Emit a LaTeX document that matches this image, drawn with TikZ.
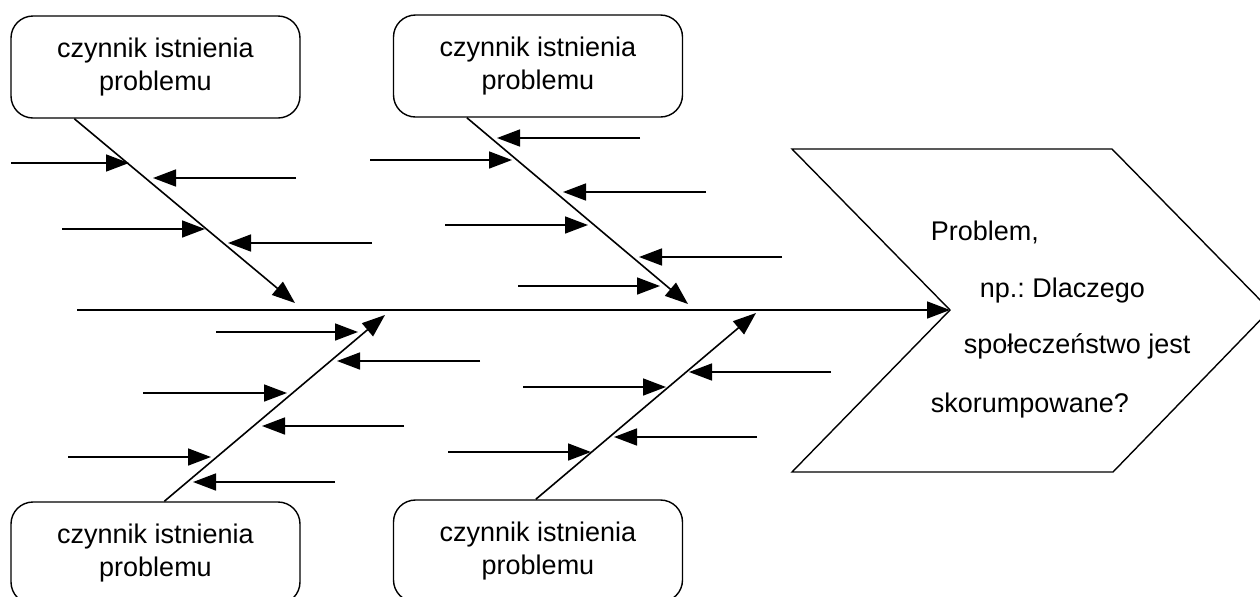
\documentclass[tikz,border=0pt]{standalone}
\usepackage{fontspec}
\setmainfont{Liberation Sans}
\usetikzlibrary{arrows.meta,calc}
\frenchspacing
\begin{document}
\begin{tikzpicture}[x=0.5pt,y=-0.5pt,
  line width=0.8pt,
  box/.style={draw, line width=0.7pt, rounded corners=11pt, minimum width=144.5pt, minimum height=51pt, align=center, font=\fontsize{13.5}{16.5}\selectfont, inner sep=0pt},
  arr/.style={-{Triangle[length=11.5pt,width=8.5pt]}},
  lbl/.style={anchor=base west, font=\fontsize{13.5}{16.5}\selectfont, inner sep=0pt}]
\useasboundingbox (0,0) rectangle (1260,596);
\clip (0,0) rectangle (1260,596);
% cause boxes
\node[box] (b1) at (155.5,67) {czynnik istnienia\\problemu};
\node[box] (b2) at (538,66) {czynnik istnienia\\problemu};
\node[box] (b3) at (155.5,553) {czynnik istnienia\\problemu};
\node[box] (b4) at (538,551) {czynnik istnienia\\problemu};
% head (chevron)
\coordinate (head) at (950,310);
\draw[line width=0.7pt] (792,149) -- (1112,149) -- (1270,310) -- (1113,472) -- (792,472) -- (head) -- cycle;
\node[lbl] (t1) at (930,240) {Problem,};
\node[lbl] (t2) at (979,297) {np.: Dlaczego};
\node[lbl] (t3) at (963,353) {społeczeństwo jest};
\node[lbl] (t4) at (930,412) {skorumpowane?};
% spine
\coordinate (tail) at (77,310);
\draw[arr] (tail) -- (head);
% bones
\coordinate (j1) at (295,303);
\coordinate (j2) at (688,304);
\coordinate (j3) at (385,315);
\coordinate (j4) at (756,313);
\draw[arr] ($(b1.south west)+(64,0)$) -- (j1);
\draw[arr] ($(b2.south west)+(74,0)$) -- (j2);
\draw[arr] ($(b3.north west)+(154,0)$) -- (j3);
\draw[arr] ($(b4.north west)+(143,0)$) -- (j4);
% sub-cause arrows
\foreach \a/\b/\y in {11/129/163, 296/153/178, 62/205/229, 372/228/243,
  640/497/138, 370/512/160, 706/563/192, 445/588/225, 782/639/257, 518/660/286,
  216/358/332, 480/337/361, 143/287/393, 404/262/426, 68/211/457, 335/193/482,
  831/689/372, 523/666/387, 757/614/437, 448/591/452}
  \draw[arr] (\a,\y) coordinate (s) -- (\b,\y) coordinate (e);
\end{tikzpicture}
\end{document}
